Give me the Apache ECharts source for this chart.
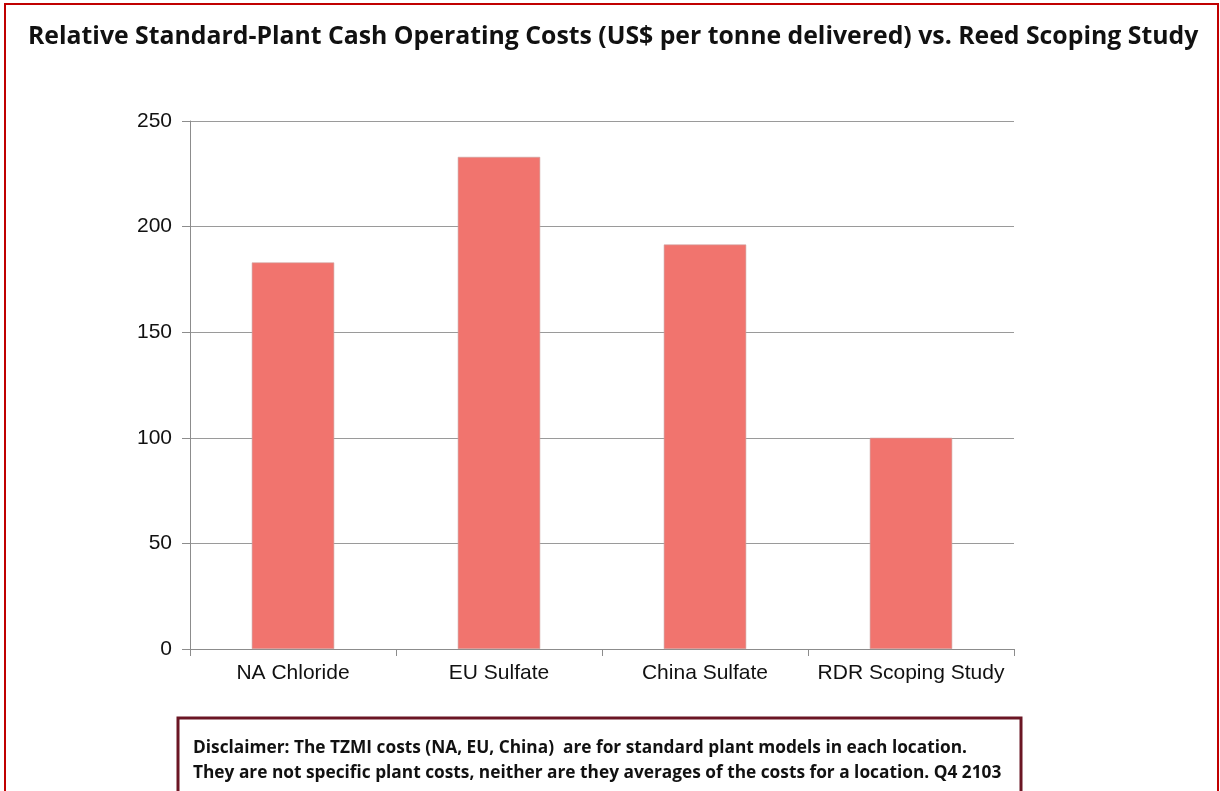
<!DOCTYPE html>
<html>
<head>
<meta charset="utf-8">
<script src="https://cdn.jsdelivr.net/npm/echarts@6/dist/echarts.min.js"></script>
<style>
  html, body { margin: 0; padding: 0; background: #fff; }
  #chart { width: 1220px; height: 791px; }
</style>
</head>
<body>
<div id="chart"></div>
<script>
const categories = ['NA Chloride', 'EU Sulfate', 'China Sulfate', 'RDR Scoping Study']
const costs = [183, 233, 191.5, 100]
const titleText = 'Relative Standard-Plant Cash Operating Costs (US$ per tonne delivered) vs. Reed Scoping Study'
const disclaimerLines = [
  'Disclaimer: The TZMI costs (NA, EU, China)  are for standard plant models in each location.',
  'They are not specific plant costs, neither are they averages of the costs for a location. Q4 2103'
]

const myChart = echarts.init(document.getElementById('chart'))

const option = {
  animation: false,
  title: {
    text: titleText,
    left: 23,
    top: 19,
    textStyle: {
      fontFamily: 'Open Sans',
      fontWeight: 'bold',
      fontSize: 24.8,
      color: '#111'
    }
  },
  grid: {
    left: 190,
    right: 206,
    top: 121,
    bottom: 142
  },
  xAxis: {
    type: 'category',
    data: categories,
    axisLine: { lineStyle: { color: '#8c8c8c', width: 1 } },
    axisTick: { show: true, interval: 0, length: 7, lineStyle: { color: '#8c8c8c' } },
    axisLabel: {
      interval: 0,
      color: '#111',
      fontFamily: 'Liberation Sans',
      fontSize: 21,
      margin: 14
    }
  },
  yAxis: {
    type: 'value',
    min: 0,
    max: 250,
    interval: 50,
    axisLine: { show: true, lineStyle: { color: '#8c8c8c', width: 1 } },
    axisTick: { show: true, length: 8, lineStyle: { color: '#8c8c8c' } },
    splitLine: { lineStyle: { color: '#9a9a9a', width: 1.2 } },
    axisLabel: {
      color: '#111',
      fontFamily: 'Liberation Sans',
      fontSize: 21,
      margin: 18
    }
  },
  series: [
    {
      type: 'bar',
      data: costs,
      barWidth: '40%',
      itemStyle: {
        color: '#f1746e',
        borderColor: '#c9a3a1',
        borderWidth: 0.6
      }
    }
  ],
  graphic: [
    {
      type: 'rect',
      shape: { x: 5, y: 4, width: 1213, height: 800 },
      style: { fill: 'none', stroke: '#c00000', lineWidth: 2 },
      silent: true
    },
    {
      type: 'rect',
      shape: { x: 178, y: 718, width: 843, height: 90 },
      style: { fill: '#fff', stroke: '#6b1624', lineWidth: 3 },
      silent: true
    },
    {
      type: 'text',
      left: 193,
      top: 736,
      style: {
        text: disclaimerLines.join('\n'),
        fontFamily: 'Open Sans',
        fontWeight: 'bold',
        fontSize: 17.3,
        lineHeight: 25,
        fill: '#111'
      },
      silent: true
    }
  ]
}

option && myChart.setOption(option)
</script>
</body>
</html>
